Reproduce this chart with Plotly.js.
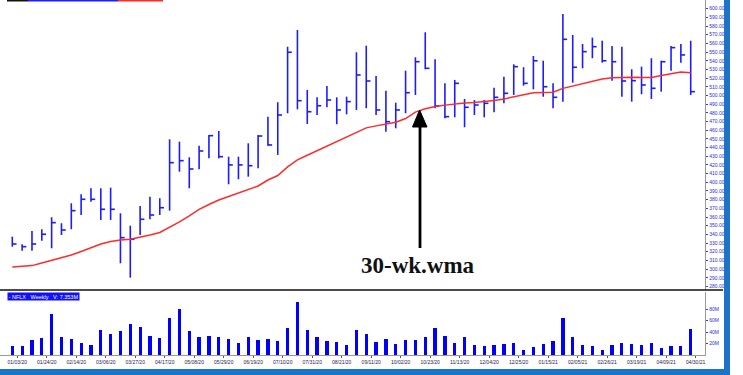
<!DOCTYPE html>
<html>
<head>
<meta charset="utf-8">
<script src="https://cdn.plot.ly/plotly-3.0.1.min.js"></script>
<style>html,body{margin:0;padding:0;background:#fff;}#chart{width:743px;height:375px;}</style>
</head>
<body>
<div id="chart"></div>
<script>
// Weekly bars (week-ending Friday)
const weeks = ["2019-12-27","2020-01-03","2020-01-10","2020-01-17","2020-01-24","2020-01-31","2020-02-07","2020-02-14","2020-02-21","2020-02-28",
"2020-03-06","2020-03-13","2020-03-20","2020-03-27","2020-04-03","2020-04-10","2020-04-17","2020-04-24","2020-05-01","2020-05-08",
"2020-05-15","2020-05-22","2020-05-29","2020-06-05","2020-06-12","2020-06-19","2020-06-26","2020-07-03","2020-07-10","2020-07-17",
"2020-07-24","2020-07-31","2020-08-07","2020-08-14","2020-08-21","2020-08-28","2020-09-04","2020-09-11","2020-09-18","2020-09-25",
"2020-10-02","2020-10-09","2020-10-16","2020-10-23","2020-10-30","2020-11-06","2020-11-13","2020-11-20","2020-11-27","2020-12-04",
"2020-12-11","2020-12-18","2020-12-25","2021-01-01","2021-01-08","2021-01-15","2021-01-22","2021-01-29","2021-02-05","2021-02-12",
"2021-02-19","2021-02-26","2021-03-05","2021-03-12","2021-03-19","2021-03-26","2021-04-02","2021-04-09","2021-04-16","2021-04-23"];

const high = [337.3,328.6,343.9,345.9,359.7,352.8,375.8,386.2,393.1,393.1,
393.8,364.3,350.0,372.7,383.4,381.6,449.5,446.8,428.8,442.2,
454.4,459.1,429.5,429.5,444.9,454.5,475.6,492.2,556.2,575.5,
506.3,497.9,510.9,497.9,498.6,549.8,557.4,522.5,505.5,491.7,
528.6,544.0,572.8,541.7,514.0,517.9,496.0,494.8,494.8,509.0,
521.7,535.9,532.5,545.5,540.1,514.0,593.9,569.7,559.3,566.6,
563.1,557.0,556.2,530.2,533.2,542.9,540.1,557.0,559.3,563.1];

const low = [325.8,321.2,321.2,332.7,324.0,339.3,345.9,362.3,377.7,356.6,
356.6,306.7,290.1,339.3,357.4,362.3,367.3,412.2,393.1,415.0,
427.6,427.6,397.7,403.5,406.5,416.1,442.2,431.5,479.5,484.1,
467.2,477.5,486.4,466.9,478.3,483.3,485.3,477.5,458.3,462.2,
479.5,500.6,530.2,485.3,473.7,474.9,463.4,477.5,474.9,480.6,
491.0,500.6,511.3,507.1,498.6,485.3,492.9,514.7,531.3,542.9,
537.8,517.1,498.6,492.9,501.4,496.0,504.4,528.6,537.8,500.6];

const close = [328.9,325.8,328.9,340.1,353.5,345.0,367.3,380.4,380.4,368.9,
368.9,336.2,334.3,357.4,362.3,370.7,422.6,424.9,415.3,436.1,
453.7,429.5,420.0,420.0,419.1,453.3,443.0,477.5,549.8,494.0,
481.3,488.2,494.8,483.3,492.9,523.6,516.7,483.3,469.8,483.3,
503.2,538.9,531.3,487.9,475.6,514.0,486.4,489.0,491.0,497.9,
502.5,533.2,514.0,540.0,510.1,497.9,564.7,532.5,550.5,556.2,
540.0,538.9,516.7,517.1,512.1,508.3,538.9,555.1,546.7,504.4];

const wma30 = [302.4,303.3,304.0,307.0,309.9,312.8,316.2,320.3,324.9,328.9,
331.8,333.5,334.3,336.4,339.3,342.2,347.9,354.3,361.2,368.7,
374.4,379.6,383.6,387.7,391.1,395.7,402.6,407.8,417.8,425.9,
431.1,436.3,441.3,446.7,452.0,457.3,462.7,465.0,467.2,469.2,
473.4,480.8,484.8,487.4,488.9,490.3,491.4,491.8,492.7,494.2,
496.0,498.4,500.8,503.2,503.5,503.7,508.2,510.9,513.9,516.9,
519.0,520.5,521.0,520.9,520.6,520.7,523.0,525.2,527.1,526.3];

// Volume, millions
const volume = [15.7,15.7,26.1,29.6,71.3,31.8,27.8,21.4,17.4,43.5,
36.5,41.2,53.9,48.2,33.6,29.0,64.3,80.0,41.2,30.8,
32.5,31.8,28.3,21.4,30.8,26.1,27.3,24.3,46.4,92.7,
43.5,31.8,24.3,22.6,16.9,43.5,36.5,22.6,28.3,19.7,
26.1,26.1,31.8,46.4,33.6,21.4,31.8,16.9,15.7,17.4,
18.6,20.3,8.7,13.9,18.6,24.3,63.8,30.8,17.4,15.7,
9.2,17.4,20.9,19.7,17.4,20.9,12.7,15.7,15.7,44.7];

const dateLabels = ["01/03/20","01/24/20","02/14/20","03/06/20","03/27/20","04/17/20","05/08/20","05/29/20",
"06/19/20","07/10/20","07/31/20","08/21/20","09/11/20","10/02/20","10/23/20","11/13/20","12/04/20",
"12/25/20","01/15/21","02/05/21","02/26/21","03/19/21","04/09/21","04/30/21"];

const priceTicks = [];
for (let p = 280; p <= 600; p += 10) priceTicks.push(p);
const volTicks = [20, 40, 60, 80];
const volTickText = ["20M", "40M", "60M", "80M"];

const DAY = 86400000;
// time as milliseconds on a linear axis (so the close ticks can be drawn as x error bars)
const t = weeks.map(s => Date.parse(s + "T00:00:00Z"));
// tick positioned half a week before the labelled Friday
const tickVals = dateLabels.map(s => {
  const [m, d, y] = s.split("/").map(Number);
  return Date.UTC(2000 + y, m - 1, d) - 3.5 * DAY;
});

const W = 743, H = 375;
const px = x => x / W, py = y => 1 - y / H;

const BLUE = "#1c1cff";

const traces = [
  {
    type: "scatter", mode: "markers", x: t, y: close,
    marker: {size: 0.1, color: "rgba(0,0,0,0)"},
    error_y: {type: "data", symmetric: false,
      array: high.map((h, i) => h - close[i]),
      arrayminus: low.map((l, i) => close[i] - l),
      width: 0, thickness: 1.6, color: BLUE},
    error_x: {type: "data", symmetric: false,
      array: close.map(() => 3 * DAY), arrayminus: close.map(() => 0),
      width: 0, thickness: 1.6, color: BLUE},
    hoverinfo: "skip", xaxis: "x", yaxis: "y"
  },
  {
    type: "scatter", mode: "lines", x: t, y: wma30,
    line: {color: "#ff2a2a", width: 1.5}, xaxis: "x", yaxis: "y", hoverinfo: "skip"
  },
  {
    type: "bar", x: t, y: volume, width: 2.3 * DAY,
    marker: {color: "#0000ff", line: {width: 0}}, xaxis: "x2", yaxis: "y2", hoverinfo: "skip"
  }
];

const xr = [Date.UTC(2019, 11, 18, 5, 45), Date.UTC(2021, 4, 3, 4, 20)];
const tickFont = {family: "Liberation Sans, Arial, sans-serif", size: 5, color: "#2a2ae0"};

const shapes = [
  {type: "line", xref: "paper", yref: "paper", x0: 0, x1: px(723), y0: py(290), y1: py(290), line: {color: "#111", width: 1.6}},
  {type: "rect", xref: "paper", yref: "paper", x0: px(724), x1: px(730), y0: 0, y1: 1, line: {width: 0}, fillcolor: "#1b74c8"},
  {type: "rect", xref: "paper", yref: "paper", x0: 0, x1: px(730), y0: 0, y1: py(369), line: {width: 0}, fillcolor: "#1b74c8"},
  {type: "rect", xref: "paper", yref: "paper", x0: px(7), x1: px(28), y0: py(1.5), y1: 1, line: {width: 0}, fillcolor: "#111"},
  {type: "rect", xref: "paper", yref: "paper", x0: px(28), x1: px(118), y0: py(1.5), y1: 1, line: {width: 0}, fillcolor: "#1c1cff"},
  {type: "rect", xref: "paper", yref: "paper", x0: px(118), x1: px(163), y0: py(1.5), y1: 1, line: {width: 0}, fillcolor: "#ff2a2a"},
  {type: "line", xref: "paper", yref: "paper", x0: px(420), x1: px(420), y0: py(248), y1: py(124), line: {color: "#000", width: 2.8}},
  {type: "path", xref: "paper", yref: "paper",
   path: `M${px(419.6)},${py(110)} L${px(412.5)},${py(127)} L${px(427)},${py(127)} Z`,
   fillcolor: "#000", line: {color: "#000", width: 1}}
];

const annotations = [
  {xref: "paper", yref: "paper", x: px(418), y: py(265), xanchor: "center", yanchor: "middle",
   text: "<b>30-wk.wma</b>", showarrow: false,
   font: {family: "Liberation Serif, Times New Roman, serif", size: 23, color: "#111"}},
  {xref: "paper", yref: "paper", x: px(7), y: py(292), xanchor: "left", yanchor: "top",
   text: "- NFLX&nbsp;&nbsp;&nbsp;Weekly&nbsp;&nbsp;&nbsp;V: 7.353M", showarrow: false, bgcolor: "#1010ff", borderpad: 0.6,
   font: {family: "Liberation Sans, Arial, sans-serif", size: 5.5, color: "#ffffff"}}
];

const layout = {
  width: W, height: H,
  margin: {l: 0, r: 0, t: 0, b: 0},
  paper_bgcolor: "#ffffff", plot_bgcolor: "#ffffff",
  showlegend: false, bargap: 0,
  xaxis: {domain: [0, px(705)], range: xr, type: "linear", showticklabels: false, ticks: "",
          showgrid: false, zeroline: false, showline: false, anchor: "y"},
  yaxis: {domain: [py(290), 1], range: [275.9, 610], side: "right", anchor: "x",
          tickvals: priceTicks, tickformat: ".2f", tickfont: tickFont,
          ticks: "outside", ticklen: 2, tickcolor: "#3a3ae0", tickwidth: 1,
          showgrid: false, zeroline: false, showline: true, linecolor: "#9a9a9a", linewidth: 1.2},
  xaxis2: {domain: [0, px(705)], range: xr, type: "linear", anchor: "y2",
           tickvals: tickVals, ticktext: dateLabels,
           tickfont: {family: "Liberation Sans, Arial, sans-serif", size: 5, color: "#1a1a50"},
           ticks: "outside", ticklen: 2, tickcolor: "#555",
           showgrid: false, zeroline: false, showline: true, linecolor: "#9a9a9a", linewidth: 1},
  yaxis2: {domain: [py(355), py(292)], range: [0, 109.6], side: "right", anchor: "x2",
           tickvals: volTicks, ticktext: volTickText, tickfont: tickFont,
           ticks: "outside", ticklen: 2, tickcolor: "#3a3ae0",
           showgrid: false, zeroline: false, showline: true, linecolor: "#9a9a9a", linewidth: 1.2},
  shapes: shapes,
  annotations: annotations
};

Plotly.newPlot("chart", traces, layout, {staticPlot: true, displayModeBar: false});
</script>
</body>
</html>
